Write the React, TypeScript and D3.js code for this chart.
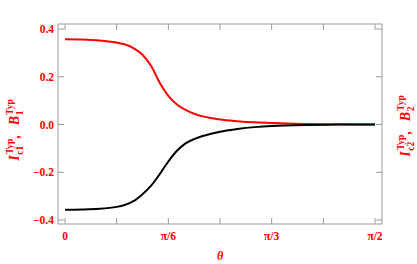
import React from "react";
import * as d3 from "d3";

// theta in degrees (0 .. 90 = pi/2)
const thetaDeg = [0, 5, 10, 15, 17.5, 20, 22.5, 25, 27.5, 30, 32.5, 35, 37.5, 40, 45, 50, 55, 60, 70, 80, 90];
const redValues = [0.357, 0.356, 0.352, 0.343, 0.335, 0.319, 0.292, 0.245, 0.175, 0.12, 0.084, 0.061, 0.045, 0.034, 0.021, 0.014, 0.009, 0.006, 0.002, 0.0007, 0.0];
const blackValues = [-0.357, -0.356, -0.353, -0.345, -0.336, -0.32, -0.292, -0.256, -0.208, -0.155, -0.11, -0.079, -0.061, -0.048, -0.03, -0.019, -0.011, -0.006, -0.002, -0.0005, 0.0];

const xTickValues = [0, 30, 60, 90];
const xTickLabels = ["0", "π/6", "π/3", "π/2"];
const xMinorTicks = [15, 45, 75];
const yTickValues = [-0.4, -0.2, 0, 0.2, 0.4];
const yTickLabels = ["−0.4", "−0.2", "0.0", "0.2", "0.4"];

const W = 417;
const H = 264;
const frame = { left: 58, right: 382, top: 24, bottom: 224 };
const grey = "#9a9a9a";
const font = "'Liberation Serif', 'Times New Roman', serif";

const x = d3.scaleLinear().domain([0, 90]).range([65, 375]);
const y = d3.scaleLinear().domain([-0.4, 0.4]).range([220, 29]);

const line = d3
  .line<number>()
  .x((_, i) => x(thetaDeg[i]))
  .y((d) => y(d))
  .curve(d3.curveCatmullRom.alpha(0.5));

const AxisTitle = ({ sub1, sub2, tx, ty }: { sub1: string; sub2: string; tx: number; ty: number }) => (
  <text
    transform={`translate(${tx},${ty}) rotate(-90)`}
    textAnchor="middle"
    fontFamily={font}
    fontWeight="bold"
    fontSize={14}
    fill="red"
  >
    <tspan fontStyle="italic">I</tspan>
    <tspan fontSize={9.5} dx={1} dy={-6}>Typ</tspan>
    <tspan fontSize={9.5} dx={-16} dy={10}>{sub1}</tspan>
    <tspan dx={7} dy={-4}>,</tspan>
    <tspan fontStyle="italic" dx={10}>B</tspan>
    <tspan fontSize={9.5} dx={1} dy={-6}>Typ</tspan>
    <tspan fontSize={9.5} dx={-16} dy={10}>{sub2}</tspan>
  </text>
);

export default function App() {
  const tickLen = 6;
  return (
    <svg width={W} height={H} style={{ position: "absolute", left: 0, top: 0 }}>
      <rect width={W} height={H} fill="white" />
      <rect
        x={frame.left}
        y={frame.top}
        width={frame.right - frame.left}
        height={frame.bottom - frame.top}
        fill="none"
        stroke={grey}
        strokeWidth={1}
      />
      {[...xTickValues, ...xMinorTicks].map((t) => (
        <g key={`xt${t}`} stroke={grey} strokeWidth={1}>
          <line x1={x(t)} x2={x(t)} y1={frame.bottom} y2={frame.bottom - tickLen} />
          <line x1={x(t)} x2={x(t)} y1={frame.top} y2={frame.top + tickLen} />
        </g>
      ))}
      {yTickValues.map((t) => (
        <g key={`yt${t}`} stroke={grey} strokeWidth={1}>
          <line x1={frame.left} x2={frame.left + tickLen} y1={y(t)} y2={y(t)} />
          <line x1={frame.right} x2={frame.right - tickLen} y1={y(t)} y2={y(t)} />
        </g>
      ))}
      {xTickValues.map((t, i) => (
        <text
          key={`xl${t}`}
          x={x(t)}
          y={240}
          textAnchor="middle"
          fontFamily={font}
          fontWeight="bold"
          fontSize={11.5}
          fill="red"
        >
          {xTickLabels[i]}
        </text>
      ))}
      {yTickValues.map((t, i) => (
        <text
          key={`yl${t}`}
          x={54}
          y={y(t) + 4}
          textAnchor="end"
          fontFamily={font}
          fontWeight="bold"
          fontSize={11.5}
          fill="red"
        >
          {yTickLabels[i]}
        </text>
      ))}
      <path d={line(redValues) ?? ""} fill="none" stroke="red" strokeWidth={2} />
      <path d={line(blackValues) ?? ""} fill="none" stroke="black" strokeWidth={2} />
      <text
        x={220}
        y={260}
        textAnchor="middle"
        fontFamily={font}
        fontWeight="bold"
        fontStyle="italic"
        fontSize={12}
        fill="red"
      >
        θ
      </text>
      <AxisTitle sub1="c1" sub2="1" tx={19} ty={130} />
      <AxisTitle sub1="c2" sub2="2" tx={410} ty={126} />
    </svg>
  );
}
